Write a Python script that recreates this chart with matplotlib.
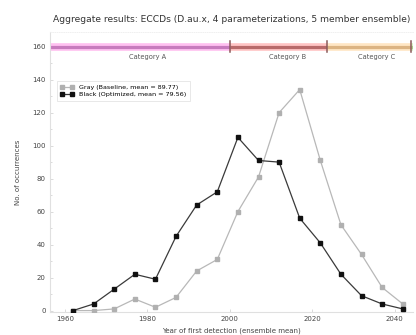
import matplotlib
matplotlib.use("Agg")
import matplotlib.pyplot as plt
from matplotlib.ticker import MultipleLocator

# ---- data ----
years = [1962, 1967, 1972, 1977, 1982, 1987, 1992, 1997, 2002, 2007, 2012,
         2017, 2022, 2027, 2032, 2037, 2042]
gray_vals = [0, 0, 1, 7, 2, 8, 24, 31, 60, 81, 120, 134, 91, 52, 34, 14, 4]
black_vals = [0, 4, 13, 22, 19, 45, 64, 72, 105, 91, 90, 56, 41, 22, 9, 4, 1]
gray_label = "Gray (Baseline, mean = 89.77)"
black_label = "Black (Optimized, mean = 79.56)"

xticks = [1960, 1980, 2000, 2020, 2040]
yticks = [0, 20, 40, 60, 80, 100, 120, 140, 160]

cat_names = ["Category A", "Category B", "Category C", ""]
cat_edges = [1956.5, 2000, 2023.5, 2044, 2045]
cat_label_x = [1980, 2014, 2035.6]
cat_main = ["#c77bbd", "#b86a6a", "#dcb483", "#a9cf8a"]
cat_halo = ["#ffc0f0", "#ffc4c4", "#ffe6c4", "#d8f4c8"]
cat_y = 160

title = "Aggregate results: ECCDs (D.au.x, 4 parameterizations, 5 member ensemble)"
xlabel = "Year of first detection (ensemble mean)"
ylabel = "No. of occurrences"

# ---- figure ----
fig = plt.figure(figsize=(4.16, 3.35), dpi=100)
ax = fig.add_axes([0.12, 0.068, 0.873, 0.837])

ax.plot(years, gray_vals, color="#b8b8b8", lw=0.9, marker="s", ms=3.3,
        mfc="#b0b0b0", mec="#b0b0b0", label=gray_label, zorder=3)
ax.plot(years, black_vals, color="#3a3a3a", lw=0.9, marker="s", ms=3.3,
        mfc="#111111", mec="#111111", label=black_label, zorder=4)

# category bar
for i in range(len(cat_main)):
    x0, x1 = cat_edges[i], cat_edges[i + 1]
    ax.plot([x0, x1], [cat_y, cat_y], color=cat_halo[i], lw=5.5,
            solid_capstyle="butt", zorder=2)
    ax.plot([x0, x1], [cat_y, cat_y], color=cat_main[i], lw=2.3,
            solid_capstyle="butt", zorder=2.5)
for xe in cat_edges[1:-1]:
    ax.plot([xe, xe], [cat_y - 3.5, cat_y + 3.5], color="#8a5a5a", lw=1.1,
            zorder=3)
for name, xl in zip(cat_names, cat_label_x):
    ax.text(xl, cat_y - 4.5, name, ha="center", va="top", fontsize=4.8,
            color="#555555")

ax.set_xlim(1956.4, 2044.5)
ax.set_ylim(-1, 169)
ax.set_xticks(xticks)
ax.set_yticks(yticks)
ax.yaxis.set_minor_locator(MultipleLocator(10))
ax.tick_params(axis="both", labelsize=5, colors="#444444", direction="in",
               length=2, width=0.5, pad=3)
ax.tick_params(axis="both", which="minor", direction="in", length=1.5,
               width=0.5, colors="#cccccc")
ax.tick_params(axis="both", which="major", color="#cccccc")

for s in ["left", "bottom"]:
    ax.spines[s].set_color("#e0e0e0")
    ax.spines[s].set_linewidth(0.8)
ax.spines["right"].set_visible(False)
ax.spines["top"].set_color("#eeeeee")
ax.spines["top"].set_linestyle(":")
ax.spines["top"].set_linewidth(0.6)

ax.set_title(title, fontsize=6.6, color="#333333", pad=7)
ax.set_xlabel(xlabel, fontsize=5, color="#444444", labelpad=4)
ax.set_ylabel(ylabel, fontsize=5, color="#444444", labelpad=8)

leg = ax.legend(loc="upper left", bbox_to_anchor=(0.01, 0.835), fontsize=4.6,
                frameon=True, fancybox=False, edgecolor="#dddddd",
                handlelength=2.2, numpoints=2, borderpad=0.5,
                labelspacing=0.3)
leg.get_frame().set_linewidth(0.6)

fig.savefig("out.png", dpi=100)
